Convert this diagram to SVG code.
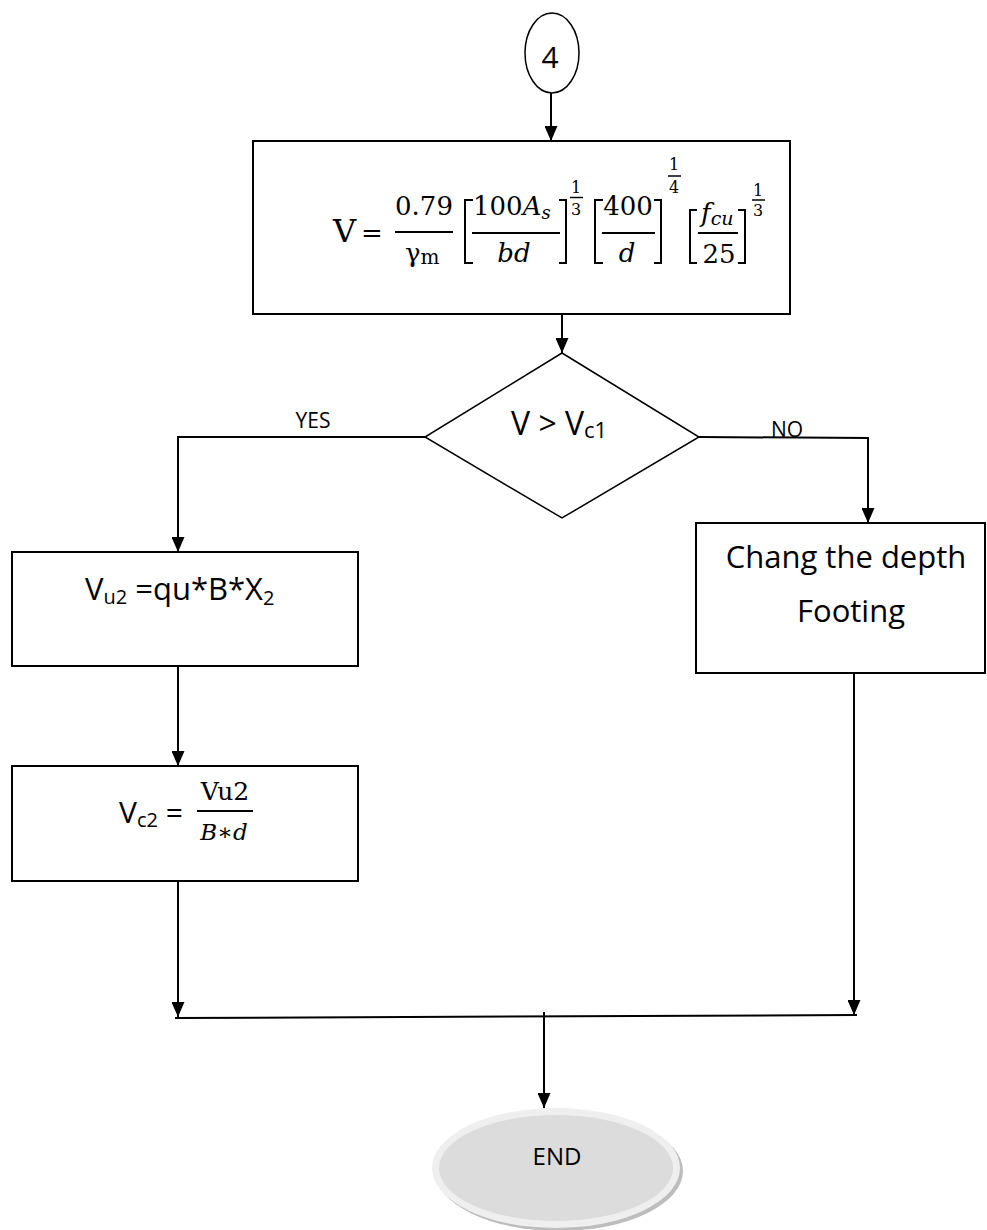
<svg xmlns="http://www.w3.org/2000/svg" width="987" height="1230" viewBox="0 0 987 1230">
<style>
.box{fill:#fff;stroke:#000;stroke-width:2}
.con{fill:none;stroke:#000;stroke-width:2}
.lbl{font-family:"Open Sans","Liberation Sans",sans-serif;fill:#000}
.m{font-family:"DejaVu Serif","Liberation Serif",serif;fill:#000}
.i{font-style:italic}
.bar{stroke:#000;stroke-width:2}
.br{fill:none;stroke:#000;stroke-width:2}
</style>
<defs>
<marker id="arr" markerWidth="15" markerHeight="13" refX="15" refY="6.5" orient="auto" markerUnits="userSpaceOnUse">
<path d="M0,0 L15,6.5 L0,13 z" fill="#000"/>
</marker>
</defs>
<rect width="987" height="1230" fill="#fff"/>

<g id="connectors">
<line class="con" x1="551" y1="88" x2="551" y2="141" marker-end="url(#arr)"/>
<line class="con" x1="562" y1="314" x2="562" y2="353" marker-end="url(#arr)"/>
<polyline class="con" points="425,437 178,437 178,552" marker-end="url(#arr)"/>
<polyline class="con" points="699,437 868,438 868,523" marker-end="url(#arr)"/>
<line class="con" x1="178" y1="666" x2="178" y2="766" marker-end="url(#arr)"/>
<line class="con" x1="178" y1="881" x2="178" y2="1017" marker-end="url(#arr)"/>
<line class="con" x1="854" y1="673" x2="854" y2="1015" marker-end="url(#arr)"/>
<line class="con" x1="175" y1="1018" x2="857" y2="1015"/>
<line class="con" x1="544" y1="1012" x2="544" y2="1108" marker-end="url(#arr)"/>
<text class="lbl" x="313" y="428" font-size="21" text-anchor="middle">YES</text>
<text class="lbl" x="787" y="437" font-size="21" text-anchor="middle">NO</text>
</g>

<g id="connector4">
<ellipse cx="552" cy="53" rx="27" ry="40" fill="#fff" stroke="#000" stroke-width="1.5"/>
<text class="lbl" x="550" y="68" font-size="30" text-anchor="middle">4</text>
</g>

<g id="formula">
<rect class="box" x="253" y="141" width="537" height="173"/>
<text class="m" x="333" y="242" font-size="32">V</text>
<text class="m" x="361" y="242" font-size="26">=</text>
<text class="m" x="424" y="215" font-size="26" text-anchor="middle">0.79</text>
<line class="bar" x1="395" y1="232" x2="453" y2="232"/>
<text class="m" x="405" y="262" font-size="26">γ<tspan font-size="20" dy="2">m</tspan></text>
<polyline class="br" points="473,200 465,200 465,263 473,263"/>
<text class="m" x="473" y="215" font-size="26">100<tspan class="i">A</tspan><tspan class="i" font-size="18" dy="4">s</tspan></text>
<line class="bar" x1="472" y1="233" x2="560" y2="233"/>
<text class="m i" x="514" y="262" font-size="26" text-anchor="middle">bd</text>
<polyline class="br" points="559,200 566,200 566,263 559,263"/>
<text class="m" x="576" y="193" font-size="16" text-anchor="middle">1</text>
<line x1="570" y1="197.5" x2="583" y2="197.5" stroke="#000" stroke-width="1.5"/>
<text class="m" x="576" y="215" font-size="16" text-anchor="middle">3</text>
<polyline class="br" points="603,200 595,200 595,263 603,263"/>
<text class="m" x="628" y="215" font-size="26" text-anchor="middle">400</text>
<line class="bar" x1="602" y1="233" x2="655" y2="233"/>
<text class="m i" x="627" y="262" font-size="26" text-anchor="middle">d</text>
<polyline class="br" points="654,200 661,200 661,263 654,263"/>
<text class="m" x="674" y="170" font-size="16" text-anchor="middle">1</text>
<line x1="668" y1="176" x2="681" y2="176" stroke="#000" stroke-width="1.5"/>
<text class="m" x="674" y="193" font-size="16" text-anchor="middle">4</text>
<polyline class="br" points="697,210 690,210 690,263 697,263"/>
<text class="m i" x="701" y="222" font-size="26">f<tspan font-size="19" dy="3">cu</tspan></text>
<line class="bar" x1="698" y1="233" x2="738" y2="233"/>
<text class="m" x="719" y="263" font-size="26" text-anchor="middle">25</text>
<polyline class="br" points="738,210 745,210 745,263 738,263"/>
<text class="m" x="758" y="196" font-size="16" text-anchor="middle">1</text>
<line x1="752" y1="200" x2="765" y2="200" stroke="#000" stroke-width="1.5"/>
<text class="m" x="758" y="216" font-size="16" text-anchor="middle">3</text>
</g>

<g id="decision">
<polygon points="562,353 699,437 562,518 425,437" fill="#fff" stroke="#000" stroke-width="1.5"/>
<text class="lbl" x="511" y="435" font-size="32">V &gt; V<tspan font-size="22" dy="3">c1</tspan></text>
</g>

<g id="vu2">
<rect class="box" x="12" y="552" width="346" height="114"/>
<text class="lbl" x="85" y="600" font-size="31">V<tspan font-size="20" dy="4">u2</tspan><tspan dy="-4"> =qu*B*X</tspan><tspan font-size="20" dy="5">2</tspan></text>
</g>

<g id="vc2">
<rect class="box" x="12" y="766" width="346" height="115"/>
<text class="lbl" x="119" y="823" font-size="30">V<tspan font-size="20" dy="4">c2</tspan><tspan dy="-4"> =</tspan></text>
<text class="m" x="225" y="800" font-size="25" text-anchor="middle">Vu2</text>
<line class="bar" x1="197" y1="811" x2="253" y2="811"/>
<text class="m" x="224" y="840" font-size="23" text-anchor="middle"><tspan class="i">B</tspan>∗<tspan class="i">d</tspan></text>
</g>

<g id="change">
<rect class="box" x="696" y="523" width="289" height="150"/>
<text class="lbl" x="846" y="568" font-size="31" text-anchor="middle">Chang the depth</text>
<text class="lbl" x="851" y="622" font-size="31" text-anchor="middle">Footing</text>
</g>

<g id="end">
<ellipse cx="559" cy="1171" rx="124" ry="60" fill="#bdbdbd"/>
<ellipse cx="556" cy="1168" rx="124" ry="60" fill="#efefef"/>
<ellipse cx="556" cy="1168" rx="117" ry="53" fill="#dcdcdc"/>
<text class="lbl" x="557" y="1165" font-size="24" text-anchor="middle">END</text>
</g>
</svg>
